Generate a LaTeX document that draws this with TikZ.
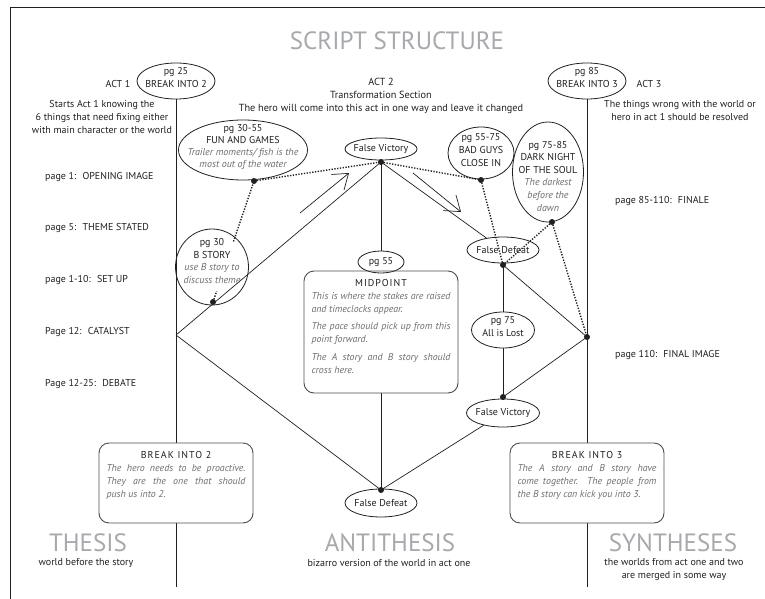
\documentclass[tikz,border=0pt]{standalone}
\usepackage{fontspec}
\setmainfont{PT Sans}
\usetikzlibrary{shapes.geometric,arrows.meta,backgrounds,calc}
\definecolor{ink}{HTML}{231F20}
\definecolor{itgray}{HTML}{6D6E71}
\definecolor{titlegray}{HTML}{A7A9AC}
\definecolor{boxedge}{HTML}{4D4D4F}
\newcommand{\headfont}{\fontsize{10}{13}\selectfont\addfontfeatures{LetterSpace=10}\color{ink}\upshape}
\newcommand{\itg}{\itshape\color{itgray}}
\begin{document}
\begin{tikzpicture}[x=1pt,y=-1pt,
  every node/.style={font=\fontsize{10}{13}\selectfont, text=ink},
  oval/.style={draw=ink, ellipse, line width=0.8pt, inner sep=0pt},
  txt/.style={align=center, inner sep=0pt},
  conn/.style={draw=ink, line width=0.7pt},
  dots/.style={draw=ink, line width=1.4pt, dash pattern=on 1.3pt off 1.5pt},
  jdot/.style={circle, fill=ink, inner sep=0pt, minimum size=6pt},
  storybox/.style={draw=boxedge, rounded corners=10pt, line width=0.9pt, minimum width=154pt, inner sep=0pt},
  boxtext/.style={text width=139pt, align=justify, inner sep=0pt, anchor=north, text=itgray, font=\fontsize{9.9}{13}\selectfont\itshape},
  bigtitle/.style={font=\fontsize{25}{25}\selectfont, text=titlegray, inner sep=0pt},
  lbl/.style={anchor=west, inner sep=0pt},
  bigarrow/.style={draw=ink, line width=0.7pt, -{Straight Barb[length=14pt, width=20pt, line width=0.7pt]}}
]
\useasboundingbox (0,0) rectangle (765,599);
% frame
\draw[ink, line width=0.9pt] (765,7.5) -- (10,7.5) -- (10,599);

% titles and texts
\node[bigtitle] (title) at (397,41) {SCRIPT STRUCTURE};
\node[txt] (act1) at (118,84) {ACT 1};
\node[txt] (act1d) at (102,117) {Starts Act 1 knowing the\\6 things that need fixing either\\with main character or the world};
\node[txt, font=\fontsize{10.3}{13}\selectfont] (act2) at (381,96) {ACT 2\\Transformation Section\\The hero will come into this act in one way and leave it changed};
\node[txt] (act3) at (649,84) {ACT 3};
\node[txt] (act3d) at (680,110.5) {The things wrong with the world or\\hero in act 1 should be resolved};

\node[lbl] (p1) at (45,177) {page 1:~ OPENING IMAGE};
\node[lbl] (p5) at (45,228) {page 5:~ THEME STATED};
\node[lbl] (p10) at (45,280) {page 1-10:~ SET UP};
\node[lbl] (p12) at (45,332) {Page 12:~ CATALYST};
\node[lbl] (p25) at (45,384) {Page 12-25:~ DEBATE};
\node[lbl] (p85) at (615,201) {page 85-110:~ FINALE};
\node[lbl] (p110) at (615,355) {page 110:~ FINAL IMAGE};

\node[bigtitle] (thesis) at (88,543) {THESIS};
\node[txt] (thesisd) at (86,563) {world before the story};
\node[bigtitle] (anti) at (390,543) {ANTITHESIS};
\node[txt] (antid) at (389,563) {bizarro version of the world in act one};
\node[bigtitle] (synth) at (673,543) {SYNTHESES};
\node[txt] (synthd) at (674,569.5) {the worlds from act one and two\\are merged in some way};

% ellipses
\node[oval, minimum width=78pt, minimum height=36pt] (pg25) at (176,81) {};
\node[txt] at (176,78) {pg 25\\BREAK INTO 2};
\node[oval, minimum width=78pt, minimum height=36pt] (pg85) at (587,81) {};
\node[txt] at (587,78) {pg 85\\BREAK INTO 3};
\node[oval, minimum width=129pt, minimum height=60pt] (fun) at (243,150) {};
\node[txt, font=\fontsize{10}{12.2}\selectfont] at (243,147) {pg 30-55\\FUN AND GAMES\\{\itg Trailer moments/ fish is the}\\{\itg most out of the water}};
\node[oval, minimum width=72pt, minimum height=22pt] (fv) at (381,149) {};
\node[txt] at (381,149) {False Victory};
\node[oval, minimum width=66pt, minimum height=52pt] (bad) at (481,153) {};
\node[txt] at (481,150) {pg 55-75\\BAD GUYS\\CLOSE IN};
\node[oval, minimum width=71pt, minimum height=100pt] (dark) at (548,172) {};
\node[txt, font=\fontsize{10}{12.6}\selectfont] at (548,176) {pg 75-85\\DARK NIGHT\\OF THE SOUL\\{\itg The darkest}\\{\itg before the}\\{\itg dawn}};
\node[oval, minimum width=72pt, minimum height=26pt] (fd) at (503,250) {};
\node[txt] at (503,250) {False Defeat};
\node[oval, minimum width=63pt, minimum height=36pt] (lost) at (503,330) {};
\node[txt] at (503,327) {pg 75\\All is Lost};
\node[oval, minimum width=73pt, minimum height=28pt] (fv2) at (503,413) {};
\node[txt] at (503,413) {False Victory};
\node[oval, minimum width=72pt, minimum height=28pt] (fd2) at (381,503) {};
\node[txt] at (381,503) {False Defeat};
\node[oval, minimum width=46pt, minimum height=22pt] (pg55) at (381,262) {};
\node[txt] at (381,262) {pg 55};
\node[oval, minimum width=73pt, minimum height=76pt] (bstory) at (212,267) {};
\node[txt, font=\fontsize{10}{12.5}\selectfont] at (212,261) {pg 30\\B STORY\\{\itg use B story to}\\{\itg discuss theme}};

% boxes
\node[storybox, minimum height=122pt] (mid) at (381,332) {};
\node[boxtext] (midt) at (381,279) {{\centering\headfont MIDPOINT\par}This is where the stakes are raised\linebreak and timeclocks appear.\par\vspace{4.5pt}The pace should pick up from this\linebreak point forward.\par\vspace{4.5pt}The A story and B story should\linebreak cross here.};
\node[storybox, minimum height=80pt] (b2) at (176,483) {};
\node[boxtext] (b2t) at (176,451) {{\centering\headfont BREAK INTO 2\par}The hero needs to be proactive.\linebreak They are the one that should\linebreak push us into 2.};
\node[storybox, minimum height=80pt] (b3) at (587,483) {};
\node[boxtext] (b3t) at (587,451) {{\centering\headfont BREAK INTO 3\par}The A story and B story have\linebreak come together.\ \ The people from\linebreak the B story can kick you into 3.};

% junction dots
\node[jdot] (fundot) at (254,181) {};
\node[jdot] (fvdot) at (381,162) {};
\node[jdot] (bgdot) at (481,180) {};
\node[jdot] (dndot) at (552,222) {};
\node[jdot] (fddot) at (503,265) {};
\node[jdot] (rdot) at (587,337) {};
\node[jdot] (fv2dot) at (503,397) {};
\node[jdot] (fd2dot) at (381,490) {};
\node[jdot] (bsdot) at (213,302) {};
\coordinate (lv) at (176,335);
\coordinate (bot1) at (176,587);
\coordinate (bot3) at (587,587);
\coordinate (a1s) at (300,213);
\coordinate (a1e) at (349,173);
\coordinate (a2s) at (413,173);
\coordinate (a2e) at (461,212);

\begin{scope}[on background layer]
\fill[white] (0,0) rectangle (765,599);
\draw[conn] (pg25.south) -- (b2.north);
\draw[conn] (b2.south) -- (bot1);
\draw[conn] (pg85.south) -- (b3.north);
\draw[conn] (b3.south) -- (bot3);
\draw[conn] (lv) -- (fvdot.center);
\draw[conn] (lv) -- (fd2dot.center);
\draw[conn] (fvdot.center) -- (pg55.north);
\draw[conn] (mid.south) -- (fd2dot.center);
\draw[conn] (fvdot.center) -- (fd);
\draw[conn] (fddot.center) -- (rdot.center);
\draw[conn] (fddot.center) -- (lost.north);
\draw[conn] (lost.south) -- (fv2dot.center);
\draw[conn] (fv2dot.center) -- (rdot.center);
\draw[conn] (fv2) -- (fd2dot.center);
\draw[dots] (fundot.center) -- (fvdot.center);
\draw[dots] (fvdot.center) -- (bgdot.center);
\draw[dots] (bsdot.center) -- ($(bsdot.center)!0.09!(fundot.center)$);
\draw[dots] ($(bsdot.center)!0.5!(fundot.center)$) -- (fundot.center);
\draw[dots] (bgdot.center) -- (fddot.center);
\draw[dots] (dndot.center) -- (fddot.center);
\draw[dots] (dndot.center) -- (rdot.center);
\end{scope}
\draw[bigarrow] (a1s) -- (a1e);
\draw[bigarrow] (a2s) -- (a2e);
\end{tikzpicture}
\end{document}
